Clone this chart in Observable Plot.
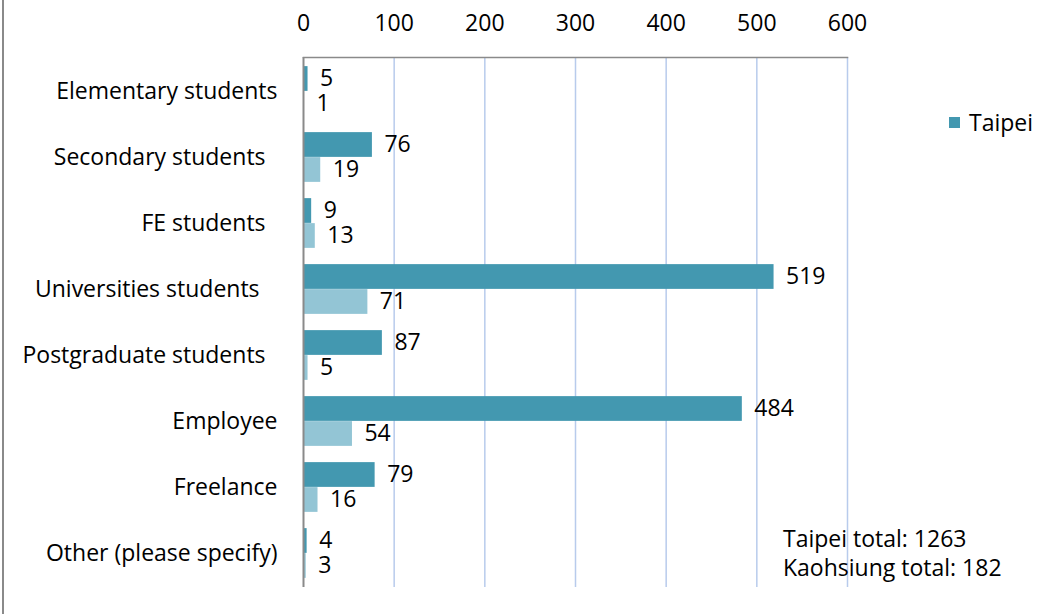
<!DOCTYPE html>
<html>
<head>
<meta charset="utf-8">
<script src="https://cdn.jsdelivr.net/npm/d3@7"></script>
<script src="https://cdn.jsdelivr.net/npm/@observablehq/plot@0.6"></script>
<style>
  html, body { margin: 0; padding: 0; background: #fff; }
  #wrap { position: relative; width: 1062px; height: 614px; overflow: hidden; font-family: "Open Sans", sans-serif; }
  #wrap svg text { white-space: pre; }
  #border { position: absolute; left: 2px; top: 0; width: 2px; height: 614px; background: #8a8a8a; }
  .legend { position: absolute; left: 949px; top: 107px; font-size: 23px; line-height: 30px; color: #000; display: flex; align-items: center; }
  .legend .sw { width: 11px; height: 11px; background: #4398B0; margin-right: 9px; }
  .totals { position: absolute; left: 783px; top: 524px; font-size: 23px; line-height: 29px; color: #000; }
</style>
</head>
<body>
<div id="wrap">
  <div id="border"></div>
  <div id="chart"></div>
</div>
<script>
const categories = [
  "Elementary students",
  "Secondary students  ",
  "FE students  ",
  "Universities students   ",
  "Postgraduate students  ",
  "Employee",
  "Freelance",
  "Other (please specify)"
];
const taipei = [5, 76, 9, 519, 87, 484, 79, 4];
const kaohsiung = [1, 19, 13, 71, 5, 54, 16, 3];
const xTicks = [0, 100, 200, 300, 400, 500, 600];
const legendLabels = ["Taipei"];
const totalsText = ["Taipei total: 1263", "Kaohsiung total: 182"];

const data = categories.map((c, i) => ({category: c, taipei: taipei[i], kaohsiung: kaohsiung[i]}));

const H = 614, MT = 57, MB = 27;
const band = (H - MT - MB) / categories.length;
const barH = 25;

const chart = Plot.plot({
  width: 1062,
  height: H,
  marginLeft: 303,
  marginRight: 215,
  marginTop: MT,
  marginBottom: MB,
  style: {fontFamily: "'Open Sans', sans-serif", fontSize: "23px", color: "#000", background: "transparent", overflow: "visible"},
  x: {domain: [0, 600], axis: "top", ticks: xTicks, tickSize: 0, tickPadding: 27, label: null, tickFormat: d => String(d)},
  y: {domain: categories, padding: 0, tickSize: 0, tickPadding: 26, label: null},
  marks: [
    Plot.ruleX(xTicks.slice(1), {stroke: "#B8CBEC", strokeWidth: 1.5}),
    Plot.frame({anchor: "top", stroke: "#8a8a8a", strokeWidth: 1.5}),
    Plot.barX(data, {y: "category", x: "taipei", fill: "#4398B0", insetTop: band / 2 - barH, insetBottom: band / 2}),
    Plot.barX(data, {y: "category", x: "kaohsiung", fill: "#93C5D5", insetTop: band / 2, insetBottom: band / 2 - barH}),
    Plot.ruleX([0], {stroke: "#8a8a8a", strokeWidth: 2}),
    Plot.text(data, {y: "category", x: "taipei", text: d => String(d.taipei), dx: 12, dy: -barH / 2, textAnchor: "start", fontSize: 23, fill: "#000"}),
    Plot.text(data, {y: "category", x: "kaohsiung", text: d => String(d.kaohsiung), dx: 12, dy: barH / 2, textAnchor: "start", fontSize: 23, fill: "#000"})
  ]
});
document.getElementById("chart").appendChild(chart);

const wrap = document.getElementById("wrap");
const leg = document.createElement("div");
leg.className = "legend";
leg.innerHTML = `<div class="sw"></div><span>${legendLabels[0]}</span>`;
wrap.appendChild(leg);
const tot = document.createElement("div");
tot.className = "totals";
tot.innerHTML = totalsText.join("<br>");
wrap.appendChild(tot);
</script>
</body>
</html>
